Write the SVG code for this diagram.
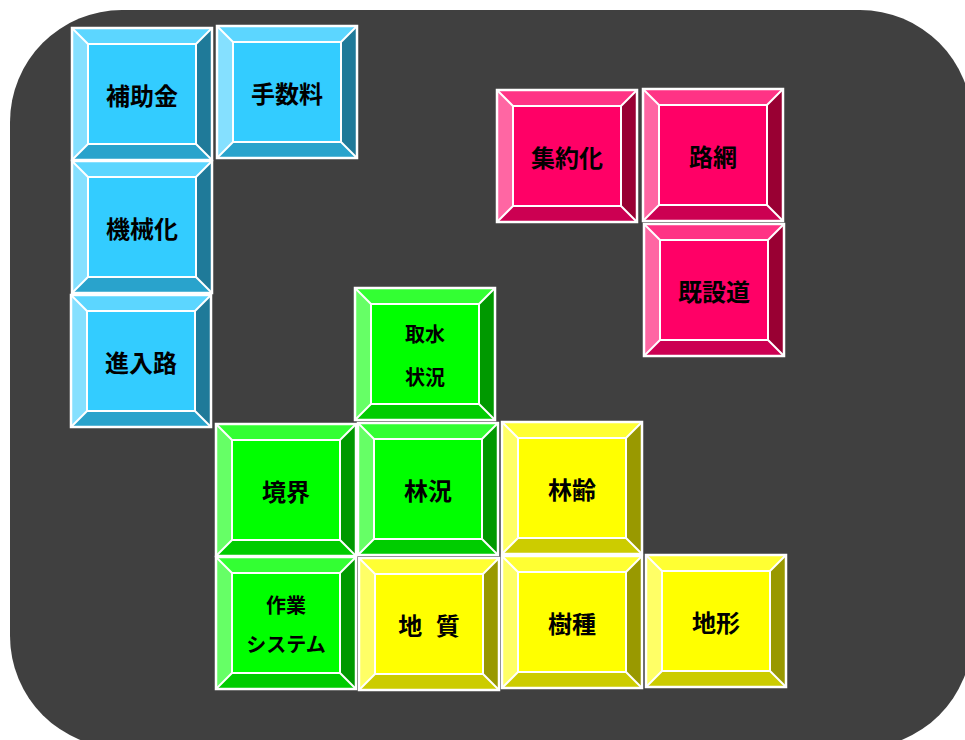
<svg xmlns="http://www.w3.org/2000/svg" width="965" height="740" viewBox="0 0 965 740">
<style>
.ln{fill:none;stroke:#fff;stroke-width:2}
.ol{fill:none;stroke:#fff;stroke-width:2.5}
.t{fill:var(--t)}.l{fill:var(--l)}.r{fill:var(--r)}.d{fill:var(--d)}.c{fill:var(--c)}
.lb{font-family:"Noto Sans CJK JP","Noto Sans CJK SC",sans-serif;font-weight:bold;fill:#000;text-anchor:middle;dominant-baseline:central}
.big{font-size:24px}
.sm{font-size:20px}
.b{--c:#33CCFF;--t:#5CD6FF;--l:#85E0FF;--r:#1F7A99;--d:#29A3CC}
.p{--c:#FF0066;--t:#FF3385;--l:#FF66A3;--r:#990033;--d:#CC0052}
.g{--c:#00FF00;--t:#33FF33;--l:#66FF66;--r:#009900;--d:#00CC00}
.y{--c:#FFFF00;--t:#FFFF33;--l:#FFFF66;--r:#999900;--d:#CCCC00}
</style>
<defs>
<g id="tile">
<polygon class="t" points="0,0 140,0 124,16 16,16"/>
<polygon class="l" points="0,0 16,16 16,116 0,132"/>
<polygon class="r" points="140,0 140,132 124,116 124,16"/>
<polygon class="d" points="0,132 16,116 124,116 140,132"/>
<rect class="c" x="16" y="16" width="108" height="100"/>
<path class="ln" d="M0,0L16,16M140,0L124,16M0,132L16,116M140,132L124,116"/>
<rect class="ln" x="16" y="16" width="108" height="100"/>
<rect class="ol" x="0" y="0" width="140" height="132"/>
</g>
</defs>
<rect x="10" y="10" width="962" height="738" rx="112" ry="112" fill="#404040"/>
<g id="connectors"/>
<g id="n-hojokin" class="b" transform="translate(72,28)"><use href="#tile"/><text class="lb big" x="70" y="66">補助金</text></g>
<g id="n-tesuryo" class="b" transform="translate(217,26)"><use href="#tile"/><text class="lb big" x="70" y="66">手数料</text></g>
<g id="n-kikaika" class="b" transform="translate(72,161)"><use href="#tile"/><text class="lb big" x="70" y="66">機械化</text></g>
<g id="n-shinnyuro" class="b" transform="translate(71,295)"><use href="#tile"/><text class="lb big" x="70" y="66">進入路</text></g>
<g id="n-shuyakuka" class="p" transform="translate(497,90)"><use href="#tile"/><text class="lb big" x="70" y="66">集約化</text></g>
<g id="n-romo" class="p" transform="translate(643,89)"><use href="#tile"/><text class="lb big" x="70" y="66">路網</text></g>
<g id="n-kisetsudo" class="p" transform="translate(644,224)"><use href="#tile"/><text class="lb big" x="70" y="66">既設道</text></g>
<g id="n-shusui" class="g" transform="translate(355,288)"><use href="#tile"/><text class="lb sm" x="70" y="45">取水</text><text class="lb sm" x="70" y="88">状況</text></g>
<g id="n-kyokai" class="g" transform="translate(216,424)"><use href="#tile"/><text class="lb big" x="70" y="66">境界</text></g>
<g id="n-rinkyo" class="g" transform="translate(358,423)"><use href="#tile"/><text class="lb big" x="70" y="66">林況</text></g>
<g id="n-rinrei" class="y" transform="translate(502,422)"><use href="#tile"/><text class="lb big" x="70" y="66">林齢</text></g>
<g id="n-sagyo" class="g" transform="translate(216,557)"><use href="#tile"/><text class="lb sm" x="70" y="47">作業</text><text class="lb sm" x="70" y="86">システム</text></g>
<g id="n-chishitsu" class="y" transform="translate(359,558)"><use href="#tile"/><text class="lb big" x="70" y="66" xml:space="preserve" word-spacing="8">地 質</text></g>
<g id="n-jushu" class="y" transform="translate(502,556)"><use href="#tile"/><text class="lb big" x="70" y="66">樹種</text></g>
<g id="n-chikei" class="y" transform="translate(646,555)"><use href="#tile"/><text class="lb big" x="70" y="66">地形</text></g>
</svg>
